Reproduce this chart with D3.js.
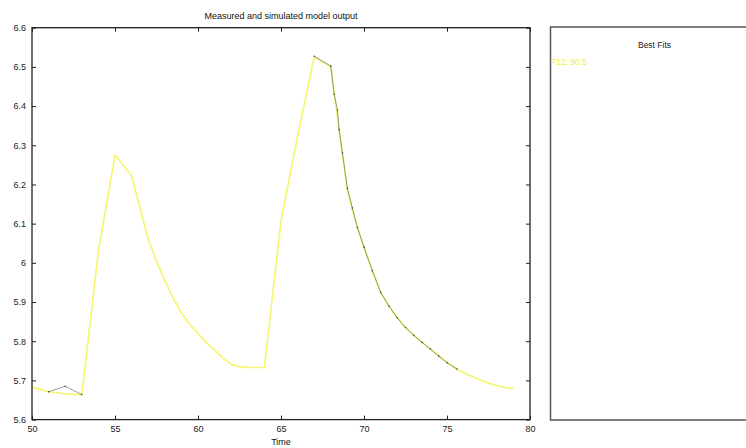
<!DOCTYPE html>
<html>
<head>
<meta charset="utf-8">
<script src="https://cdn.jsdelivr.net/npm/d3@7/dist/d3.min.js"></script>
<style>
	body { margin:0; background:#fff; }
	svg text { font-family:"Liberation Sans", Arial, sans-serif; }
</style>
</head>
<body>
<svg id="chart" width="746" height="448"></svg>
<script>
/*	Chart data -----------------------------------------------------------------*/
var simTime = [50,51,52,53,54,55,56,57,57.5,58,58.5,59,59.5,60,60.5,61,61.5,62,62.5,63,63.5,64,
	65,66,67,68,68.5,69,69.5,70,70.5,71,71.5,72,72.5,73,73.5,74,74.5,75,75.5,76,76.5,77,77.5,78,78.5,79];
var simValue = [5.683,5.671,5.666,5.663,6.03,6.275,6.222,6.06,6.005,5.955,5.91,5.872,5.843,5.82,5.797,5.777,5.757,5.741,5.735,5.733,5.733,5.733,
	6.107,6.324,6.525,6.5,6.34,6.185,6.105,6.04,5.98,5.925,5.89,5.86,5.835,5.815,5.797,5.78,5.763,5.746,5.731,5.72,5.71,5.701,5.693,5.687,5.682,5.679];
var measTimeA = [51,52,53];
var measValueA = [5.671,5.685,5.664];
var measTimeB = [67,68,68.2,68.4,68.5,68.7,69,69.3,69.6,70,70.5,71,71.5,72,72.5,73,73.5,74,74.5,75,75.6];
var measValueB = [6.527,6.502,6.43,6.39,6.34,6.28,6.19,6.14,6.09,6.04,5.98,5.925,5.89,5.86,5.835,5.815,5.797,5.78,5.762,5.745,5.729];
var xTicks = [50,55,60,65,70,75,80];
var yTicks = [5.6,5.7,5.8,5.9,6,6.1,6.2,6.3,6.4,6.5,6.6];
var titleText = "Measured and simulated model output";
var xLabelText = "Time";
var fitTitle = "Best Fits";
var fitLabels = ["P12: 90.5"];

/*	Layout -----------------------------------------------------------------------*/
var padding = {left:32, top:27.7, right:216, bottom:28.4};
var width = 746, height = 448;
var plotW = width - padding.left - padding.right;
var plotH = height - padding.top - padding.bottom;

var svg = d3.select("#chart");
var xScale = d3.scaleLinear().domain([50,80]).range([0,plotW]);
var yScale = d3.scaleLinear().domain([5.6,6.6]).range([plotH,0]);

var g = svg.append("g")
	.attr("transform","translate(" + padding.left + "," + padding.top + ")");

/*	Lines --------------------------------------------------------------------------*/
var line = d3.line()
	.x(function(d){ return xScale(d[0]); })
	.y(function(d){ return yScale(d[1]); });

g.append("path")
	.datum(simTime.map(function(t,i){ return [t, simValue[i]]; }))
	.attr("d", line)
	.attr("fill","none")
	.attr("stroke","#f6f670")
	.attr("stroke-width",1.7)
	.attr("stroke-linejoin","round");

[[measTimeA, measValueA],[measTimeB, measValueB]].forEach(function(m){
	var pts = m[0].map(function(t,i){ return [t, m[1][i]]; });
	g.append("path")
		.datum(pts)
		.attr("d", line)
		.attr("fill","none")
		.attr("stroke","#444")
		.attr("stroke-width",0.8)
		.attr("opacity",0.65);
	g.selectAll(null)
		.data(pts)
		.enter()
		.append("circle")
		.attr("cx",function(d){ return xScale(d[0]); })
		.attr("cy",function(d){ return yScale(d[1]); })
		.attr("r",0.8)
		.attr("fill","#444");
});

/*	Axes: MATLAB style box with inward ticks -------------------------------------*/
var tickLen = 4;
g.append("g")
	.attr("transform","translate(0," + plotH + ")")
	.call(d3.axisBottom(xScale).tickValues(xTicks).tickSize(-tickLen).tickPadding(tickLen + 2).tickFormat(d3.format("d")));
g.append("g")
	.call(d3.axisTop(xScale).tickValues(xTicks).tickSize(-tickLen).tickFormat(""));
g.append("g")
	.call(d3.axisLeft(yScale).tickValues(yTicks).tickSize(-tickLen).tickPadding(tickLen + 2)
		.tickFormat(function(d){ return d3.format(".1f")(d).replace(/\.0$/, ""); }));
g.append("g")
	.attr("transform","translate(" + plotW + ",0)")
	.call(d3.axisRight(yScale).tickValues(yTicks).tickSize(-tickLen).tickFormat(""));

g.selectAll(".domain").remove();
g.selectAll(".tick line").attr("stroke","#222").attr("stroke-width",1);
g.selectAll(".tick text")
	.style("font-size","9px")
	.attr("fill","#222");

g.append("rect")
	.attr("width",plotW)
	.attr("height",plotH)
	.attr("fill","none")
	.attr("stroke","#222")
	.attr("stroke-width",1.3);

/*	Titles ------------------------------------------------------------------------*/
svg.append("text")
	.attr("x", padding.left + plotW/2)
	.attr("y", 19)
	.attr("text-anchor","middle")
	.style("font-size","9px")
	.attr("fill","#111")
	.text(titleText);
svg.append("text")
	.attr("x", padding.left + plotW/2)
	.attr("y", 445)
	.attr("text-anchor","middle")
	.style("font-size","9px")
	.attr("fill","#111")
	.text(xLabelText);

/*	Best fits panel ----------------------------------------------------------------*/
var panel = svg.append("g").attr("transform","translate(550.5,27)");
panel.append("rect")
	.attr("width",210)
	.attr("height",393)
	.attr("fill","none")
	.attr("stroke","#555")
	.attr("stroke-width",1.5);
panel.append("text")
	.attr("x",104)
	.attr("y",21)
	.attr("text-anchor","middle")
	.style("font-size","8.5px")
	.attr("fill","#222")
	.text(fitTitle);
panel.selectAll(".fit")
	.data(fitLabels)
	.enter()
	.append("text")
	.attr("class","fit")
	.attr("x",0)
	.attr("y",function(d,i){ return 38 + i*12; })
	.style("font-size","8.5px")
	.attr("fill","#eeee44")
	.text(function(d){ return d; });
</script>
</body>
</html>
